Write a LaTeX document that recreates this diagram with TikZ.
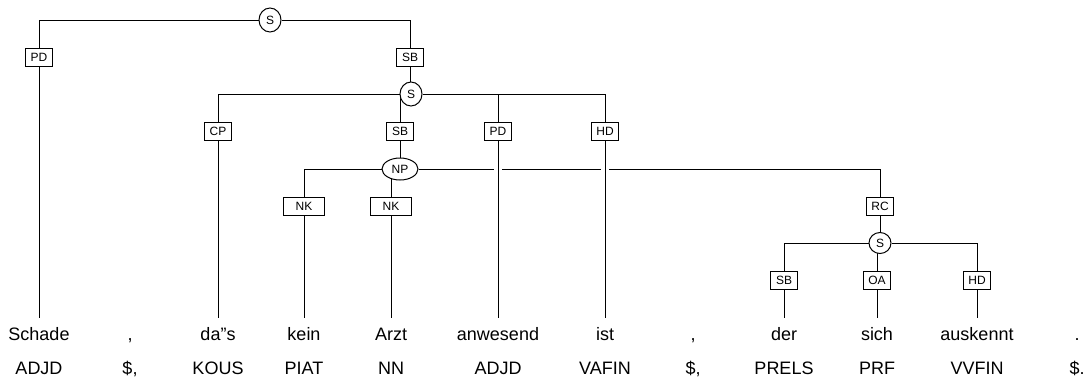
\documentclass[tikz,border=0pt]{standalone}
\usepackage{fontspec}
\setmainfont[Ligatures=ResetAll]{Liberation Sans}
\usetikzlibrary{shapes.geometric,backgrounds}

\begin{document}
\begin{tikzpicture}[x=1pt, y=-1pt,
edgelabel/.style = {draw, fill=white, rectangle, font=\fontsize{12}{13}\selectfont, minimum width=27pt, minimum height=18pt, inner sep=1pt},
cat/.style = {draw, fill=white, ellipse, font=\fontsize{12}{13}\selectfont, minimum width=22pt, minimum height=24pt, inner sep=0pt},
word/.style = {anchor=base, font=\fontsize{18}{20}\selectfont, text height=13pt, inner ysep=9pt, inner xsep=0pt},
tagtext/.style = {anchor=base, font=\fontsize{18}{20}\selectfont},
cross/.style = {preaction={draw=white, line width=8pt}},
line width=1pt
]
    \useasboundingbox (0,0) rectangle (1090,381);

    \node [word] (schade) at (39,340) {Schade};
    \node [word] (comma1) at (130,340) {,};
    \node [word] (dass) at (218,340) {da"s};
    \node [word] (kein) at (304,340) {kein};
    \node [word] (arzt) at (391,340) {Arzt};
    \node [word] (anwesend) at (498,340) {anwesend};
    \node [word] (ist) at (605,340) {ist};
    \node [word] (comma2) at (693,340) {,};
    \node [word] (der) at (784,340) {der};
    \node [word] (sich) at (877,340) {sich};
    \node [word] (auskennt) at (977,340) {auskennt};
    \node [word] (period) at (1077,340) {.};

    \node [tagtext] (tagschade) at (39,374) {ADJD};
    \node [tagtext] (tagcomma1) at (130,374) {\$,};
    \node [tagtext] (tagdass) at (218,374) {KOUS};
    \node [tagtext] (tagkein) at (304,374) {PIAT};
    \node [tagtext] (tagarzt) at (391,374) {NN};
    \node [tagtext] (taganwesend) at (498,374) {ADJD};
    \node [tagtext] (tagist) at (605,374) {VAFIN};
    \node [tagtext] (tagcomma2) at (693,374) {\$,};
    \node [tagtext] (tagder) at (784,374) {PRELS};
    \node [tagtext] (tagsich) at (877,374) {PRF};
    \node [tagtext] (tagauskennt) at (977,374) {VVFIN};
    \node [tagtext] (tagperiod) at (1077,374) {\$.};

    \node [cat] (s1) at (270,20) {S};
    \node [edgelabel] (pd1) at (39,57) {PD};
    \node [edgelabel] (sb1) at (410,57) {SB};

    \node [cat] (s2) at (411,94) {S};
    \node [edgelabel] (cp) at (218,131) {CP};
    \node [edgelabel] (sb2) at (400,131) {SB};
    \node [edgelabel] (pd2) at (498,131) {PD};
    \node [edgelabel] (hd2) at (605,131) {HD};

    \node [cat, minimum width=36pt, minimum height=22pt] (np) at (400,169) {NP};
    \node [edgelabel, minimum width=41pt] (nk1) at (304,206) {NK};
    \node [edgelabel, minimum width=41pt] (nk2) at (391,206) {NK};
    \node [edgelabel] (rc) at (880,206) {RC};

    \node [cat, minimum height=21pt] (s3) at (880,243) {S};
    \node [edgelabel] (sb3) at (784,280) {SB};
    \node [edgelabel] (oa) at (877,280) {OA};
    \node [edgelabel] (hd3) at (977,280) {HD};

    \begin{scope}[on background layer]
    \draw (s1.west) -| (pd1.north);
    \draw (s1.east) -| (sb1.north);
    \draw (pd1.south) -- (pd1.south |- schade.north);
    \draw (sb1.south) -- (sb1 |- s2);

    \draw (s2.west) -| (cp.north);
    \draw (s2.east) -| (hd2.north);
    \draw (pd2.north) -- (pd2 |- s2);
    \draw (sb2.north) -- (sb2 |- s2);
    \draw (cp.south) -- (cp.south |- dass.north);
    \draw (sb2.south) -- (np);

    \draw (np.west) -| (nk1.north);
    \draw (np.east) -| (rc.north);
    \draw (nk2.north) -- (nk2 |- np);
    \draw (nk1.south) -- (nk1.south |- kein.north);
    \draw (nk2.south) -- (nk2.south |- arzt.north);
    \draw [cross] (pd2.south) -- (pd2.south |- anwesend.north);
    \draw [cross] (hd2.south) -- (hd2.south |- ist.north);
    \draw (rc.south) -- (s3);

    \draw (s3.west) -| (sb3.north);
    \draw (s3.east) -| (hd3.north);
    \draw (oa.north) -- (oa |- s3);
    \draw (sb3.south) -- (sb3.south |- der.north);
    \draw (oa.south) -- (oa.south |- sich.north);
    \draw (hd3.south) -- (hd3.south |- auskennt.north);
    \end{scope}

\end{tikzpicture}
\end{document}
